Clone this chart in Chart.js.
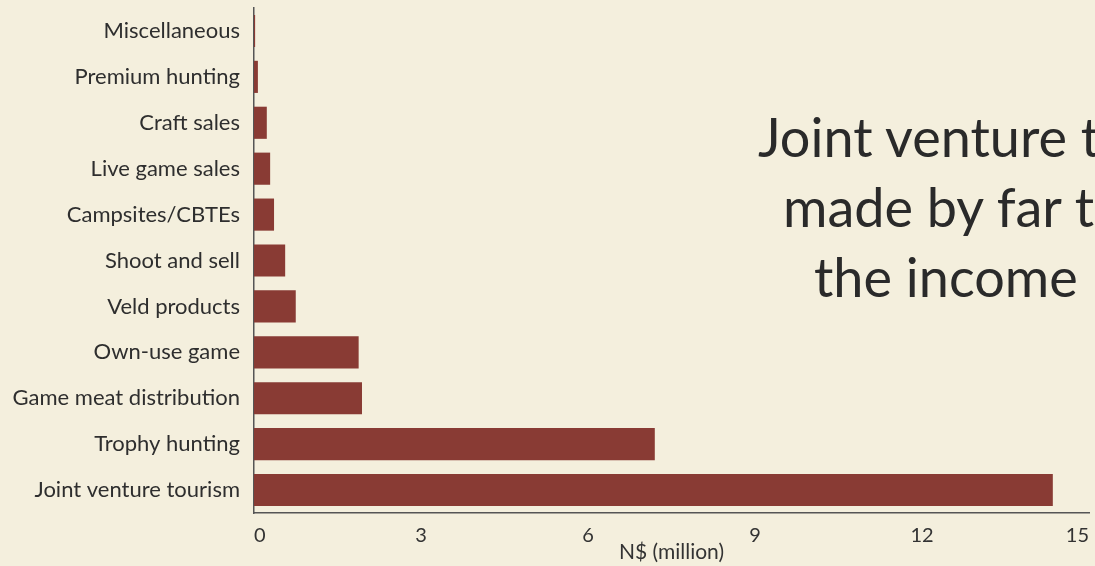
<!DOCTYPE html>
<html>
<head>
<meta charset="utf-8">
<script src="https://cdn.jsdelivr.net/npm/chart.js@4.4.1/dist/chart.umd.min.js"></script>
<style>
  html, body { margin: 0; padding: 0; background: #f4efdd; overflow: hidden; }
  #wrap { position: relative; width: 1095px; height: 566px; }
  .note {
    position: absolute;
    font-family: Lato, sans-serif;
    font-size: 54px;
    line-height: 70px;
    color: #2a2a2a;
    white-space: nowrap;
  }
</style>
</head>
<body>
<div id="wrap">
  <canvas id="chart" width="1095" height="566"></canvas>
  <div class="note" style="left:758px; top:102px;">Joint venture t</div>
  <div class="note" style="left:783px; top:172px;">made by far t</div>
  <div class="note" style="left:814px; top:242px;">the income</div>
</div>
<script>
// income sources, top to bottom as in the figure
const categories = [
  'Miscellaneous',
  'Premium hunting',
  'Craft sales',
  'Live game sales',
  'Campsites/CBTEs',
  'Shoot and sell',
  'Veld products',
  'Own-use game',
  'Game meat distribution',
  'Trophy hunting',
  'Joint venture tourism'
];
// N$ million
const income = [0.02, 0.07, 0.23, 0.29, 0.36, 0.56, 0.75, 1.88, 1.94, 7.2, 14.35];
const xTicks = [0, 3, 6, 9, 12, 15];

const ctx = document.getElementById('chart').getContext('2d');

new Chart(ctx, {
    type: 'bar',
    data: {
        labels: categories,
        datasets: [{
            data: income,
            backgroundColor: '#893b34',
            barPercentage: 0.7,
            categoryPercentage: 1.0
        }]
    },
    options: {
        indexAxis: 'y',
        responsive: false,
        animation: false,
        layout: { padding: { top: 8, right: 6, left: 0, bottom: 0 } },
        plugins: {
            legend: { display: false },
            tooltip: { enabled: false }
        },
        scales: {
            x: {
                min: 0,
                max: 15,
                afterBuildTicks: (axis) => { axis.ticks = xTicks.map(v => ({ value: v })); },
                afterFit: (axis) => {
                    axis.height = 53;
                    axis.paddingLeft = 0;
                    axis.paddingRight = 0;
                },
                grid: { display: false, drawTicks: false },
                border: { display: true, color: '#555', width: 1.5 },
                ticks: {
                    align: 'inner',
                    padding: 11,
                    color: '#333',
                    font: { family: 'Lato', size: 20 }
                },
                title: {
                    display: true,
                    text: 'N$ (million)',
                    color: '#333',
                    padding: { top: 0, bottom: 1 },
                    font: { family: 'Lato', size: 21 }
                }
            },
            y: {
                afterFit: (axis) => {
                    axis.width = 254;
                    axis.paddingTop = 0;
                    axis.paddingBottom = 0;
                },
                grid: { display: false, drawTicks: false },
                border: { display: true, color: '#555', width: 1.5 },
                ticks: {
                    padding: 14,
                    color: '#2e2e2e',
                    font: { family: 'Lato', size: 22 }
                }
            }
        }
    }
});
</script>
</body>
</html>
